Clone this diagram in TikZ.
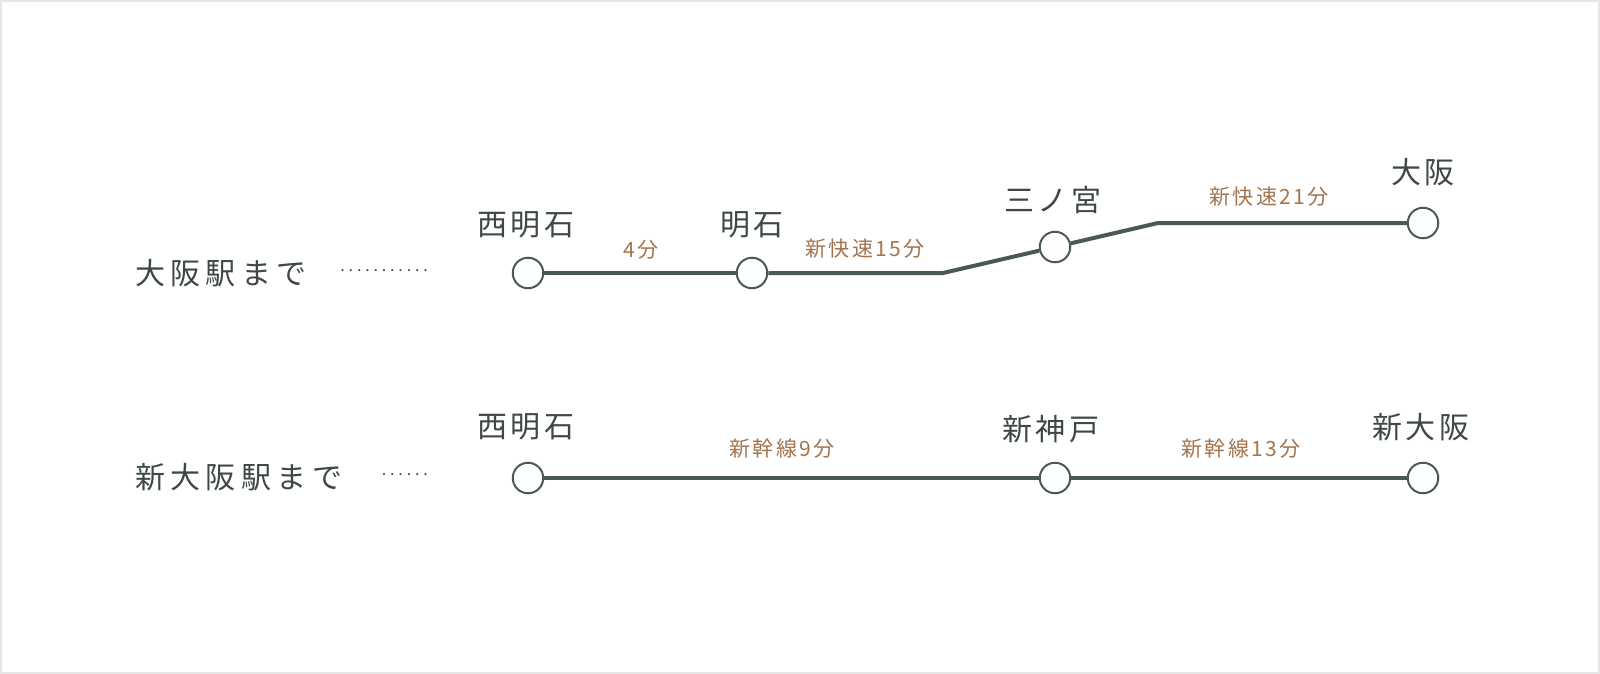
\documentclass[tikz,border=0pt]{standalone}
\usepackage{fontspec}
\setmainfont{Noto Sans CJK JP}
\definecolor{linec}{HTML}{4A5A51}
\definecolor{textc}{HTML}{3E4943}
\definecolor{timec}{HTML}{A3754F}
\definecolor{framec}{HTML}{E6E6E6}
\begin{document}
\begin{tikzpicture}[x=1pt,y=-1pt,
  station/.style={circle,draw=linec,line width=2pt,fill=white,minimum size=30.5pt,inner sep=0pt},
  track/.style={draw=linec,line width=4pt},
  stname/.style={text=textc,inner sep=0pt,font=\fontsize{30}{30}\selectfont\addfontfeatures{LetterSpace=12}},
  rowlabel/.style={text=textc,inner sep=0pt,anchor=west,font=\fontsize{30}{30}\selectfont\addfontfeatures{LetterSpace=18}},
  leader/.style={text=textc,inner sep=0pt,anchor=base east,font=\fontsize{16}{16}\selectfont\addfontfeatures{LetterSpace=24}},
  timelabel/.style={text=timec,inner sep=0pt,font=\fontsize{21}{21}\selectfont\addfontfeatures{LetterSpace=12}}]
\fill[framec] (0,0) rectangle (1600,674);
\fill[white] (2,2) rectangle (1598,672);
\useasboundingbox (0,0) rectangle (1600,674);
% row 1
\node[station] (a1) at (528,273) {};
\node[station] (a2) at (752,273) {};
\coordinate (k1) at (943,273);
\node[station] (a3) at (1055,247) {};
\coordinate (k2) at (1158,223);
\node[station] (a4) at (1423,223) {};
\draw[track] (a1) -- (a2);
\draw[track] (a2) -- (k1) -- (a3);
\draw[track] (a3) -- (k2) -- (a4);
% row 2
\node[station] (b1) at (528,478) {};
\node[station] (b2) at (1055,478) {};
\node[station] (b3) at (1423,478) {};
\draw[track] (b1) -- (b2);
\draw[track] (b2) -- (b3);
% station names
\node[stname] (n1) at (526,225) {西明石};
\node[stname] (n2) at (752,225) {明石};
\node[stname] (n3) at (1053,200) {三ノ宮};
\node[stname] (n4) at (1423,172) {大阪};
\node[stname] (m1) at (526,427) {西明石};
\node[stname] (m2) at (1051,429) {新神戸};
\node[stname] (m3) at (1421,427) {新大阪};
% times
\node[timelabel] (t1) at (641,250) {4分};
\node[timelabel] (t2) at (865,249) {新快速15分};
\node[timelabel] (t3) at (1269,197) {新快速21分};
\node[timelabel] (u1) at (782,449) {新幹線9分};
\node[timelabel] (u2) at (1241,449) {新幹線13分};
% row labels
\node[rowlabel] (r1) at (135,273) {大阪駅まで};
\node[rowlabel] (r2) at (135,477) {新大阪駅まで};
\node[leader] (d1) at (428,271.5) {...........};
\node[leader] (d2) at (428,475) {......};
\end{tikzpicture}
\end{document}
